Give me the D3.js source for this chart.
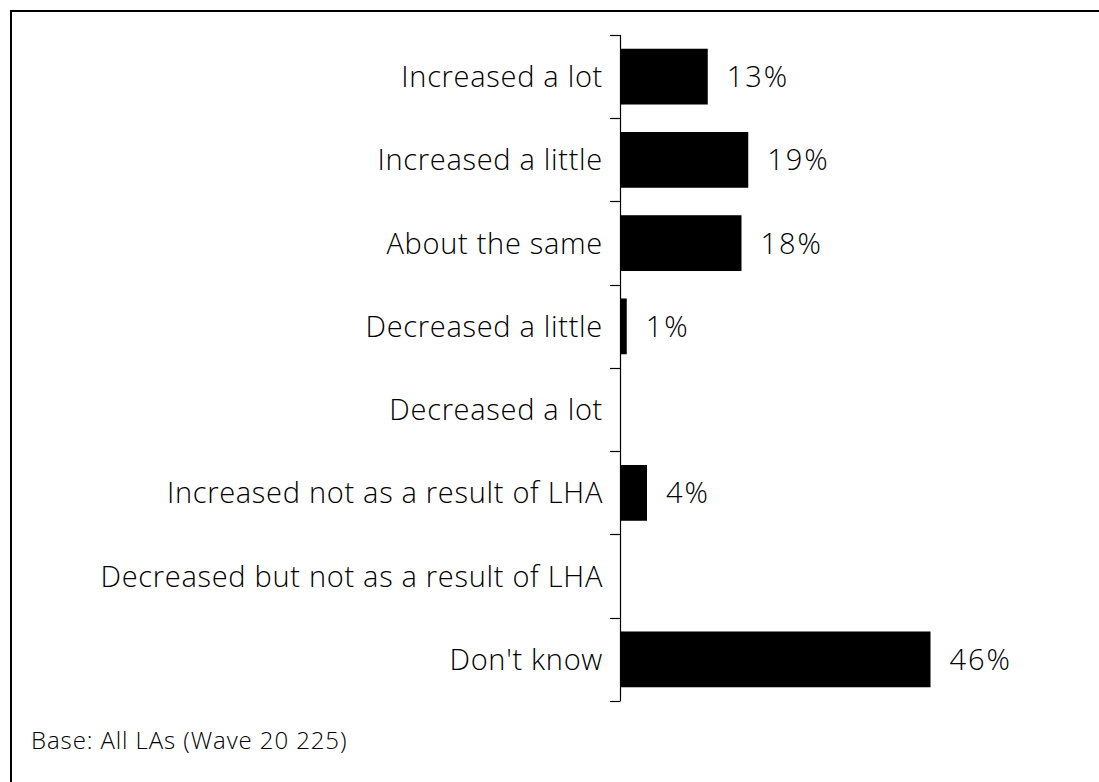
<!DOCTYPE html>
<html>
<head>
<meta charset="utf-8">
<script src="https://cdn.jsdelivr.net/npm/d3@7/dist/d3.min.js"></script>
<style>
  html, body { margin: 0; padding: 0; background: #fff; }
  svg { display: block; }
  text { font-family: "Open Sans", "Noto Sans", sans-serif; fill: #000; font-weight: 300; }
</style>
</head>
<body>
<svg id="chart" width="1099" height="782"></svg>
<script>
const categories = [
  "Increased a lot",
  "Increased a little",
  "About the same",
  "Decreased a little",
  "Decreased a lot",
  "Increased not as a result of LHA",
  "Decreased but not as a result of LHA",
  "Don't know"
];
const values = [13, 19, 18, 1, 0, 4, 0, 46];
const valueLabels = ["13%", "19%", "18%", "1%", "", "4%", "", "46%"];
const baseNote = "Base: All LAs (Wave 20 225)";

const svg = d3.select("#chart");
const W = 1099, H = 782;

// outer frame (extends past the right/bottom edge as in the reference)
svg.append("rect")
  .attr("x", 11).attr("y", 11)
  .attr("width", W + 20).attr("height", H + 20)
  .attr("fill", "#fff").attr("stroke", "#000").attr("stroke-width", 2);

const axisX = 620;
const x = d3.scaleLinear().domain([0, 46]).range([axisX, 930.5]);
const y = d3.scaleBand().domain(categories).range([35, 701])
  .paddingInner(0.33).paddingOuter(0.165);

const g = svg.append("g");

// bars
g.selectAll("rect.bar").data(categories).join("rect")
  .attr("class", "bar")
  .attr("x", x(0))
  .attr("y", d => y(d))
  .attr("width", (d, i) => x(values[i]) - x(0))
  .attr("height", y.bandwidth())
  .attr("fill", "#000");

// axis line and ticks at band boundaries
const step = y.step();
const boundaries = categories.map(c => y(c) - step * y.paddingInner() / 2);
boundaries.push(y(categories[categories.length - 1]) + y.bandwidth() + step * y.paddingInner() / 2);

g.append("line")
  .attr("x1", axisX + 0.5).attr("x2", axisX + 0.5)
  .attr("y1", boundaries[0]).attr("y2", boundaries[boundaries.length - 1])
  .attr("stroke", "#000").attr("stroke-width", 1.2);

g.selectAll("line.tick").data(boundaries).join("line")
  .attr("class", "tick")
  .attr("x1", axisX - 10).attr("x2", axisX + 0.5)
  .attr("y1", d => Math.round(d) + 0.5).attr("y2", d => Math.round(d) + 0.5)
  .attr("stroke", "#000").attr("stroke-width", 1.2);

// category labels
g.selectAll("text.cat").data(categories).join("text")
  .attr("class", "cat")
  .attr("x", 603)
  .attr("y", d => y(d) + y.bandwidth() / 2)
  .attr("dy", "0.36em")
  .attr("text-anchor", "end")
  .attr("font-size", 29)
  .attr("letter-spacing", 0.7)
  .text(d => d);

// value labels
g.selectAll("text.val").data(categories).join("text")
  .attr("class", "val")
  .attr("x", (d, i) => x(values[i]) + 19)
  .attr("y", d => y(d) + y.bandwidth() / 2)
  .attr("dy", "0.36em")
  .attr("font-size", 29)
  .attr("letter-spacing", 2)
  .text((d, i) => valueLabels[i]);

// base note
svg.append("text")
  .attr("x", 31)
  .attr("y", 749)
  .attr("font-size", 24)
  .attr("letter-spacing", 0.9)
  .text(baseNote);
</script>
</body>
</html>
